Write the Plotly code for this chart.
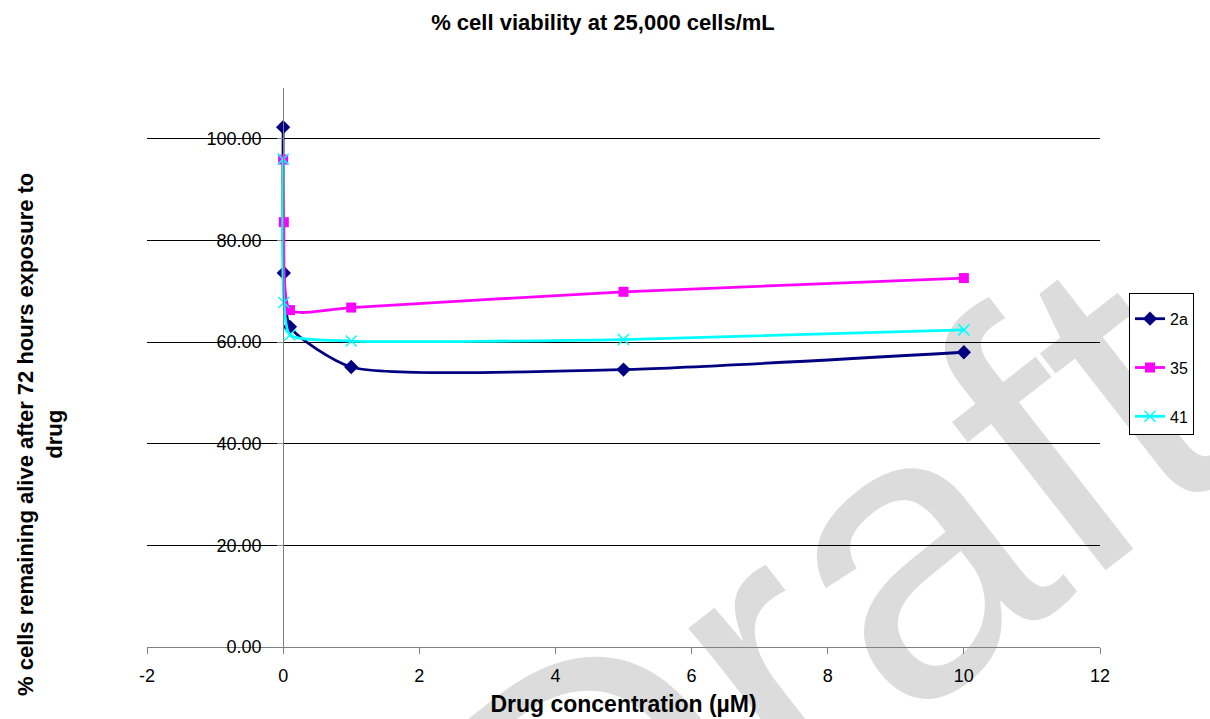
import plotly.graph_objects as go

# Data
conc = [0, 0.01, 0.1, 1, 5, 10]
s_2a = [102.3, 73.6, 63.0, 55.1, 54.6, 58.0]
s_35 = [95.9, 83.6, 66.3, 66.8, 69.9, 72.6]
s_41 = [96.0, 67.8, 61.4, 60.2, 60.5, 62.4]
series_names = ["2a", "35", "41"]
y_ticks = [0, 20, 40, 60, 80, 100]
x_ticks = [-2, 0, 2, 4, 6, 8, 10, 12]

FONT = "Liberation Sans, Arial, sans-serif"

fig = go.Figure()
fig.add_trace(go.Scatter(
    x=conc, y=s_2a, name=series_names[0], mode="lines+markers",
    line=dict(color="#000080", width=2.8, shape="spline", smoothing=0.6),
    marker=dict(symbol="diamond", size=11, color="#000080"),
    legendgroup="a"))
fig.add_trace(go.Scatter(
    x=conc, y=s_35, name=series_names[1], mode="lines+markers",
    line=dict(color="#FF00FF", width=2.8, shape="spline", smoothing=0.6),
    marker=dict(symbol="square", size=10, color="#FF00FF"),
    legendgroup="b"))
fig.add_trace(go.Scatter(
    x=conc, y=s_41, name=series_names[2], mode="lines+markers",
    line=dict(color="#00FFFF", width=2.8, shape="spline", smoothing=0.6),
    marker=dict(symbol="x-thin", size=11, color="#00FFFF",
                line=dict(color="#00FFFF", width=1.5)),
    legendgroup="c"))

fig.update_layout(
    width=1210, height=719,
    margin=dict(l=147, r=110, t=88, b=72, autoexpand=False),
    paper_bgcolor="white", plot_bgcolor="white",
    font=dict(family=FONT, color="black", size=16),
    showlegend=True,
    title=dict(text="<b>% cell viability at 25,000 cells/mL</b>",
               x=(603 - 147) / 953, xanchor="center", xref="paper",
               y=1 - 22 / 719, yanchor="middle", yref="container",
               font=dict(size=22, family=FONT)),
    xaxis=dict(range=[-2, 12], domain=[0, 1], tickvals=x_ticks,
               ticktext=[str(v) for v in x_ticks],
               automargin=False,
               showgrid=False, zeroline=False,
               showline=True, linecolor="#808080", linewidth=1,
               ticks="outside", ticklen=6, tickcolor="#808080",
               ticklabelstandoff=6,
               tickfont=dict(size=18),
               title=dict(text="<b>Drug concentration (µM)</b>",
                          font=dict(size=23), standoff=11)),
    yaxis=dict(range=[0, 110], tickvals=y_ticks, tickformat=".2f",
               anchor="free", position=2 / 14, automargin=False,
               showgrid=True, gridcolor="black", gridwidth=1,
               zeroline=False,
               showline=True, linecolor="#808080", linewidth=1,
               ticks="outside", ticklen=6, tickcolor="#808080",
               ticklabelstandoff=12,
               tickfont=dict(size=18)),
    legend=dict(x=(1129 - 147) / 953, xanchor="left",
                y=(647 - 293) / 559, yanchor="top",
                bordercolor="black", borderwidth=1, bgcolor="white",
                font=dict(size=16), tracegroupgap=25,
                title=dict(text=" ", font=dict(size=6)),
                traceorder="grouped", itemwidth=30),
    annotations=[dict(
        text="<b>% cells remaining alive after 72 hours exposure to<br>drug</b>",
        xref="paper", yref="paper",
        x=(40 - 147) / 953, y=(647 - 435) / 559,
        xanchor="center", yanchor="middle",
        textangle=-90, showarrow=False,
        font=dict(size=22, family=FONT))],
    shapes=[dict(
        type="line", xref="paper", yref="paper",
        x0=0.683, y0=0.1145, x1=0.693, y1=0.1145,
        line=dict(color="rgba(0,0,0,0)", width=1),
        layer="below",
        label=dict(text="Draft", textangle=-38, textposition="middle",
                   xanchor="center", yanchor="middle", padding=0,
                   font=dict(size=400, color="#dcdcdc", family=FONT)))],
)

fig.write_html("out.html")
